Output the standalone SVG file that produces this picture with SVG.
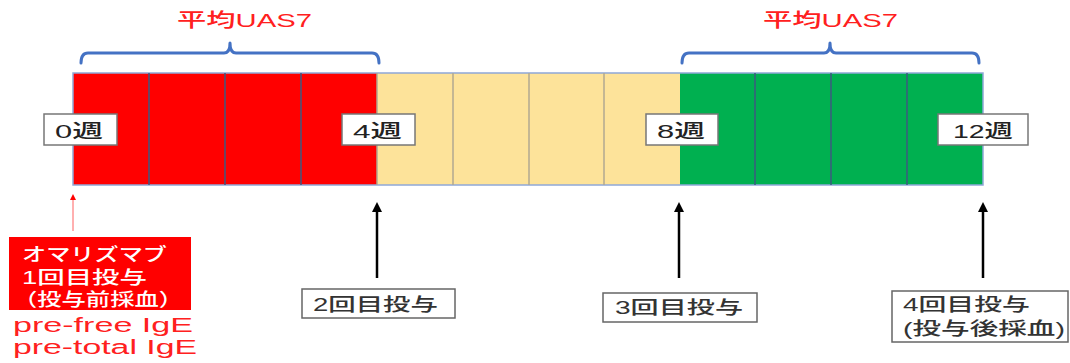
<svg xmlns="http://www.w3.org/2000/svg" width="1070" height="363" viewBox="0 0 1070 363">
<style>
.cjk{font-family:"Liberation Sans","Noto Sans CJK JP",sans-serif}
.div{stroke:#3d5a80;stroke-width:1.5}
.brace{fill:none;stroke:#4472c4;stroke-width:3;stroke-linecap:round;stroke-linejoin:round}
.title{fill:#ff2020;font-size:19px;font-weight:500}
.wk{fill:#fff;stroke:#777;stroke-width:1.5}
.wkt{fill:#222;font-size:19px;font-weight:500}
.lbl{fill:#fff;stroke:#666;stroke-width:1.5}
.lblt{fill:#333;font-size:18px;font-weight:500}
.wt{fill:#fff;font-size:18px;font-weight:500}
.pre{fill:#ff2020;font-size:19.5px}
.arr{stroke:#000;stroke-width:2.5}
</style>
<defs>
<marker id="ah" markerWidth="4" markerHeight="4" refX="2" refY="2" orient="auto" markerUnits="strokeWidth">
<path d="M0,0 L4,2 L0,4 z" fill="#000"/>
</marker>
<marker id="ahr" markerWidth="6" markerHeight="6" refX="3" refY="3" orient="auto" markerUnits="strokeWidth">
<path d="M0,0 L6,3 L0,6 z" fill="#ff0000"/>
</marker>
</defs>
<g id="bar">
<rect x="73" y="73" width="304" height="112" fill="#ff0000"/>
<rect x="377" y="73" width="303" height="112" fill="#fde39a"/>
<rect x="680" y="73" width="303" height="112" fill="#00b050"/>
<rect x="73" y="73" width="910" height="112" fill="none" stroke="#8fa8d8" stroke-width="1.5"/>
<line class="div" x1="149" y1="73" x2="149" y2="185"/>
<line class="div" x1="225" y1="73" x2="225" y2="185"/>
<line class="div" x1="301" y1="73" x2="301" y2="185"/>
<line x1="377" y1="73" x2="377" y2="185" stroke="#b0a890" stroke-width="1.5"/>
<line x1="453" y1="73" x2="453" y2="185" stroke="#b0a890" stroke-width="1.5"/>
<line x1="529" y1="73" x2="529" y2="185" stroke="#b0a890" stroke-width="1.5"/>
<line x1="604" y1="73" x2="604" y2="185" stroke="#b0a890" stroke-width="1.5"/>
<line class="div" x1="755" y1="73" x2="755" y2="185"/>
<line class="div" x1="831" y1="73" x2="831" y2="185"/>
<line class="div" x1="907" y1="73" x2="907" y2="185"/>
</g>
<g id="brace-left">
<path class="brace" d="M81,63 Q81,53 88,53 L224,53 Q230,53 230,43 Q230,53 236,53 L372,53 Q379,53 379,63"/>
<text class="cjk title" x="177" y="27" textLength="135" lengthAdjust="spacingAndGlyphs">平均UAS7</text>
</g>
<g id="brace-right">
<path class="brace" d="M682,63 Q682,53 689,53 L824,53 Q830,53 830,43 Q830,53 836,53 L972,53 Q979,53 979,63"/>
<text class="cjk title" x="763" y="27" textLength="135" lengthAdjust="spacingAndGlyphs">平均UAS7</text>
</g>
<g id="wk0"><rect class="wk" x="44" y="114" width="73" height="31"/><text class="cjk wkt" x="55" y="138" textLength="48" lengthAdjust="spacingAndGlyphs">0週</text></g>
<g id="wk4"><rect class="wk" x="342" y="114" width="73" height="31"/><text class="cjk wkt" x="353" y="138" textLength="49" lengthAdjust="spacingAndGlyphs">4週</text></g>
<g id="wk8"><rect class="wk" x="646" y="114" width="72" height="31"/><text class="cjk wkt" x="657" y="138" textLength="48" lengthAdjust="spacingAndGlyphs">8週</text></g>
<g id="wk12"><rect class="wk" x="938" y="114" width="90" height="31"/><text class="cjk wkt" x="953" y="138" textLength="60" lengthAdjust="spacingAndGlyphs">12週</text></g>
<g id="connectors">
<line x1="73" y1="231" x2="73" y2="197" stroke="#ff6060" stroke-width="1" marker-end="url(#ahr)"/>
<line class="arr" x1="377" y1="278" x2="377" y2="207" marker-end="url(#ah)"/>
<line class="arr" x1="679" y1="278" x2="679" y2="207" marker-end="url(#ah)"/>
<line class="arr" x1="983" y1="278" x2="983" y2="207" marker-end="url(#ah)"/>
</g>
<g id="dose1">
<rect x="9" y="237" width="182" height="73" fill="#ff0000"/>
<text class="cjk wt" x="22" y="261" textLength="145" lengthAdjust="spacingAndGlyphs">オマリズマブ</text>
<text class="cjk wt" x="22" y="284" textLength="125" lengthAdjust="spacingAndGlyphs">1回目投与</text>
<text class="cjk wt" x="13" y="306" textLength="170" lengthAdjust="spacingAndGlyphs">（投与前採血）</text>
<text class="cjk pre" x="13" y="332" textLength="180" lengthAdjust="spacingAndGlyphs">pre-free IgE</text>
<text class="cjk pre" x="13" y="354" textLength="184" lengthAdjust="spacingAndGlyphs">pre-total IgE</text>
</g>
<g id="dose2"><rect class="lbl" x="302" y="289" width="153" height="29"/><text class="cjk lblt" x="313" y="311" textLength="125" lengthAdjust="spacingAndGlyphs">2回目投与</text></g>
<g id="dose3"><rect class="lbl" x="603" y="293" width="154" height="29"/><text class="cjk lblt" x="615" y="314" textLength="128" lengthAdjust="spacingAndGlyphs">3回目投与</text></g>
<g id="dose4"><rect class="lbl" x="892" y="291" width="176" height="51"/><text class="cjk lblt" x="903" y="311" textLength="127" lengthAdjust="spacingAndGlyphs">4回目投与</text><text class="cjk lblt" x="903" y="335" textLength="162" lengthAdjust="spacingAndGlyphs">(投与後採血)</text></g>
</svg>
